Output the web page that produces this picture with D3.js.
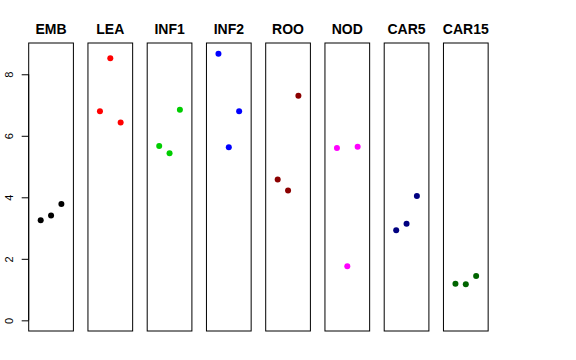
<!DOCTYPE html>
<html><head><meta charset="utf-8">
<script src="https://cdn.jsdelivr.net/npm/d3@7"></script>
<style>body{margin:0;background:#fff}svg{display:block}</style>
</head><body>
<script>
const categories = ["EMB","LEA","INF1","INF2","ROO","NOD","CAR5","CAR15"];
const colors = ["#000000","#FF0000","#00CD00","#0000FF","#8B0000","#FF00FF","#000080","#006400"];
const rep1 = [3.25, 6.80, 5.67, 8.67, 4.58, 5.60, 2.93, 1.19];
const rep2 = [3.41, 8.52, 5.43, 5.63, 4.22, 1.76, 3.14, 1.17];
const rep3 = [3.78, 6.43, 6.85, 6.80, 7.30, 5.64, 4.04, 1.44];
const yTicks = [0, 2, 4, 6, 8];

(function(){
const W = 576, H = 360;
const svg = d3.select("body").append("svg").attr("width", W).attr("height", H);

const panelLeft = 28.7, pitch = 59.25, panelW = 44.7;
const plotTop = 43, plotBottom = 331;
const ymax = 8.67;
const y = d3.scaleLinear().domain([-0.04*ymax, ymax*1.04]).range([plotBottom, plotTop]);

categories.forEach((cat, i) => {
  const x0 = panelLeft + i*pitch;
  const x = d3.scaleLinear().domain([-0.16, 4.16]).range([x0, x0 + panelW]);
  const g = svg.append("g");
  g.append("rect").attr("x", x0).attr("y", plotTop).attr("width", panelW).attr("height", plotBottom - plotTop)
    .attr("fill", "none").attr("stroke", "#000").attr("stroke-width", 1);
  const vals = [rep1[i], rep2[i], rep3[i]];
  g.selectAll("circle").data(vals).enter().append("circle")
    .attr("cx", (d, j) => x(j + 1)).attr("cy", d => y(d)).attr("r", 3)
    .attr("fill", colors[i]);
  g.append("text").attr("x", x0 + panelW/2).attr("y", 34).attr("text-anchor", "middle")
    .attr("font-family", "Liberation Sans, Arial, sans-serif").attr("font-weight", "bold")
    .attr("font-size", 14).text(cat);
});

const axis = d3.axisLeft(y).tickValues(yTicks).tickSize(7).tickPadding(6);
const ag = svg.append("g").attr("transform", `translate(${panelLeft},0)`).call(axis);
ag.select(".domain").attr("d", `M0,${y(0)}V${y(8)}`).attr("stroke", "#000");
ag.selectAll(".tick line").attr("stroke", "#000");
ag.selectAll(".tick text")
  .attr("font-family", "Liberation Sans, Arial, sans-serif").attr("font-size", 11)
  .attr("fill", "#000")
  .attr("text-anchor", "middle")
  .attr("transform", "translate(-20,0) rotate(-90)")
  .attr("x", 0).attr("y", 0).attr("dy", "0.35em");
})();
</script>
</body></html>
